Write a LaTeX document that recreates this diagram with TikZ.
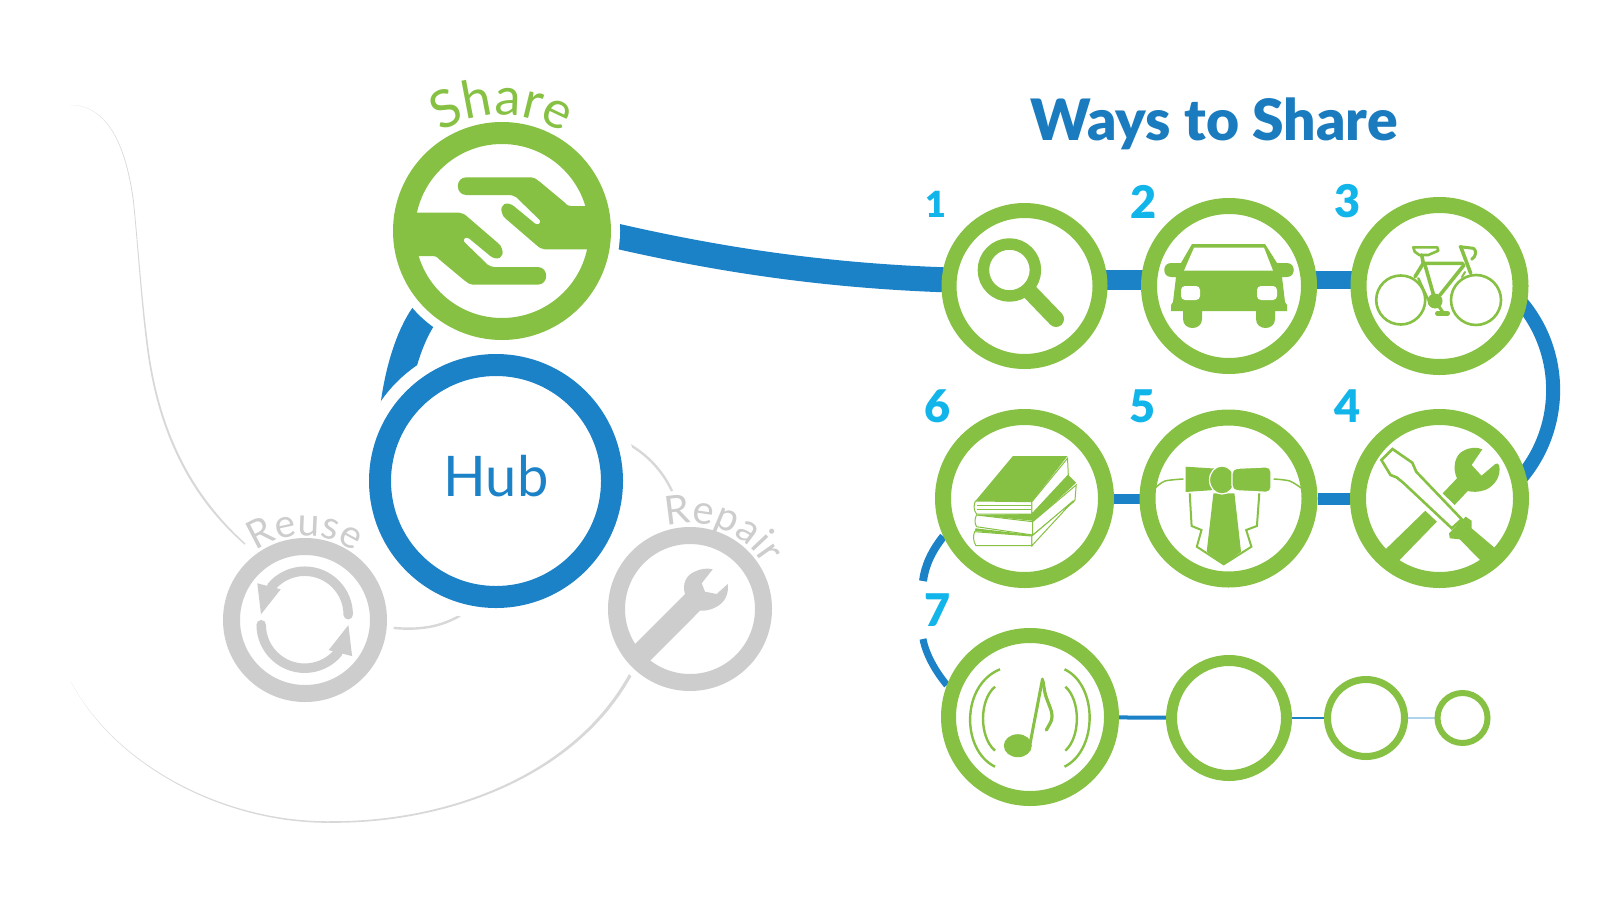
\documentclass[tikz,border=0pt]{standalone}
\usepackage{fontspec}
\usetikzlibrary{backgrounds,calc,decorations.text}
\newfontfamily\heavyfont{Lato Black}
\newfontfamily\hubfont{Lato}
\newfontfamily\arcfont[LetterSpace=6]{Lato}
\definecolor{grn}{HTML}{86C143}
\definecolor{blu}{HTML}{1B82C8}
\definecolor{cyn}{HTML}{12B5EA}
\definecolor{gry}{HTML}{CDCDCD}
\definecolor{lin}{HTML}{D8D8D8}
\tikzset{
  ring/.style={circle,draw=grn,fill=white,inner sep=0pt},
  grayring/.style={circle,draw=gry,fill=white,inner sep=0pt,minimum size=147pt,line width=17pt,preaction={draw=white,line width=31pt}},
  band/.style={draw=blu,line cap=butt},
  thinline/.style={draw=lin,line width=2.4pt},
  numlabel/.style={text=cyn,inner sep=0pt,font=\heavyfont\fontsize{45}{45}\selectfont},
  iconline/.style={draw=grn,line cap=round,line join=round},
}
\newcommand{\handShape}{%
  \fill[grn] (83.7,-25) -- (69.3,-25) .. controls (65,-25) and (63,-28) .. (61.7,-29.3) -- (37.7,-49.3)
    .. controls (34,-52) and (32,-53.7) .. (29.3,-53.7) -- (-35.7,-53.7)
    .. controls (-47,-53.7) and (-47,-36) .. (-35.7,-36) -- (7.7,-36)
    .. controls (10,-36) and (12,-35) .. (14.3,-33.7) -- (37.7,-11)
    .. controls (39.5,-8) and (36,-5) .. (32.7,-7.7) -- (11.7,-25)
    .. controls (5,-30) and (-3,-27) .. (0,-18) .. controls (0.5,-15.5) and (2,-14) .. (3.3,-12.7)
    -- (34.3,14) .. controls (37,16.5) and (40,18.3) .. (42.7,18.3) -- (85.3,18.3) -- (95,18) -- (95,-25) -- cycle;}
\newcommand{\reuseArrow}{%
  \draw[gry,line width=9.5pt,line cap=round] (43.5,-5) arc[start angle=0,end angle=-140,radius=43.5];
  \fill[gry] (-43.7,-5.4) -- (-47.4,-36.4) -- (-24,-30.4) -- cycle;}
\begin{document}
\begin{tikzpicture}[x=1pt,y=-1pt]
\useasboundingbox (0,0) rectangle (1616,918);
\begin{scope}[on background layer]
  \fill[white] (0,0) rectangle (1616,918);
\end{scope}
% main rings
\node[ring,minimum size=196pt,line width=22pt,preaction={draw=white,line width=40pt}] (share) at (502,231) {};
\node[circle,draw=blu,fill=white,inner sep=0pt,minimum size=232pt,line width=22pt,preaction={draw=white,line width=48pt}] (hub) at (496,481) {};
\node[grayring] (reuse) at (305,620) {};
\node[grayring] (repair) at (690,609) {};
\node[ring,minimum size=151pt,line width=15pt] (c1) at (1024.5,286) {};
\node[ring,minimum size=160pt,line width=16pt] (c2) at (1229,286) {};
\node[ring,minimum size=162pt,line width=16pt] (c3) at (1439.5,286) {};
\node[ring,minimum size=163pt,line width=16pt] (c4) at (1439.5,498.5) {};
\node[ring,minimum size=162pt,line width=16pt] (c5) at (1228.5,498.5) {};
\node[ring,minimum size=163pt,line width=16pt] (c6) at (1024.5,498.5) {};
\node[ring,minimum size=163pt,line width=15pt] (c7) at (1030,717) {};
\node[ring,minimum size=115pt,line width=11pt] (c8) at (1229,718) {};
\node[ring,minimum size=77pt,line width=7pt] (c9) at (1366,718) {};
\node[ring,minimum size=50pt,line width=6pt] (c10) at (1462.5,718) {};
% free ends
\coordinate (gapA) at (923,581);
\coordinate (gapB) at (923,639);
\coordinate (repairEnd) at (672,491);
\coordinate (fadeTop) at (70,105);
\coordinate (fadeBot) at (71,681.7);
\coordinate (reuseEndA) at (245.5,543.5);
\coordinate (reuseEndB) at (244.5,544.5);
\coordinate (repairFootA) at (629,674);
\coordinate (repairFootB) at (631.5,676);
\begin{scope}[on background layer]
  \draw[band,line width=25pt] (share.-2) .. controls (720,260) and (850,282) .. ([yshift=5pt]c1.center);
  \draw[band,line width=28pt] (share.-133) .. controls (412,330) and (400,365) .. (hub.143);
  \draw[band,line width=20pt] ([yshift=6pt]c1.center) -- ([yshift=6pt]c2.center);
  \draw[band,line width=18pt] ([yshift=6pt]c2.center) -- ([yshift=6pt]c3.center);
  \draw[band,line width=14pt] ([shift={(75,9)}]c3.center) .. controls (1566,348) and (1566,432) .. ([shift={(75,-13.5)}]c4.center);
  \draw[band,line width=12pt] (c4) -- (c5);
  \draw[band,line width=10pt] (c5) -- (c6);
  \draw[band,line width=8pt] (c6.205) .. controls (931,552) and (925,566) .. (gapA);
  \draw[band,line width=7pt] (gapB) .. controls (926,655) and (936,672) .. (c7.159);
  \draw[band,line width=4pt] (c7) -- (c8);
  \draw[band,line width=2pt] (c8) -- (c9);
  \draw[draw=blu!35,line width=2pt] (c9) -- (c10);
  % grey connectors
  \draw[thinline] (reuse.-5) .. controls (425,632) and (450,625) .. (hub.-100);
  \draw[thinline] (hub.20) .. controls (645,450) and (662,470) .. (repairEnd);
  \fill[lin] (fadeTop) .. controls (105,104.8) and (125.4,140) .. (133.7,200) .. controls (138.4,245) and (141.6,295) .. (147.5,340) .. controls (158,430) and (191,494) .. (reuseEndA) -- (reuseEndB) .. controls (189,496) and (156,430) .. (145.9,340) .. controls (140.4,295) and (137.6,245) .. (132.9,200) .. controls (124.6,140) and (105,105.2) .. (fadeTop) -- cycle;
  \fill[lin] (repairFootA) .. controls (574,774) and (450,821.2) .. (333,821.2) .. controls (225,823.2) and (115,765) .. (fadeBot) .. controls (115,766) and (225,824.5) .. (333,822.8) .. controls (450,823) and (576,776) .. (repairFootB) -- cycle;
\end{scope}
% title, numbers
\node[text=blu!95!black,inner sep=0pt,font=\heavyfont\fontsize{57}{57}\selectfont] (title) at (1214,124) {Ways to Share};
\node[numlabel,font=\heavyfont\fontsize{36}{36}\selectfont] (n1) at (936,204.5) {1};
\node[numlabel] (n2) at (1143.5,201.5) {2};
\node[numlabel] (n3) at (1348,201.5) {3};
\node[numlabel] (n4) at (1348,406) {4};
\node[numlabel] (n5) at (1143,406) {5};
\node[numlabel] (n6) at (937.5,406) {6};
\node[numlabel] (n7) at (937.5,610.5) {7};
\node[text=blu,inner sep=0pt,font=\hubfont\fontsize{56}{56}\selectfont] (hubtext) at (496,476) {Hub};
% arc labels
\path[decorate,decoration={text along path,text align=center,text color=grn,text={|\arcfont\fontsize{52}{52}\selectfont|Share}}]
  ($(share)+(-135:116)$) arc[start angle=-135,end angle=-45,radius=116];
\path[decorate,decoration={text along path,text align=center,text color=gry,text={|\arcfont\fontsize{39}{39}\selectfont|Reuse}}]
  ($(reuse)+(-140:84)$) arc[start angle=-140,end angle=-40,radius=84];
\path[decorate,decoration={text along path,text align=center,text color=gry,text={|\arcfont\fontsize{40}{40}\selectfont|Repair}}]
  ($(repair)+(-120:86)$) arc[start angle=-120,end angle=-16,radius=86];
% share icon
\begin{scope}[shift={(502,231)}]
  \handShape
\end{scope}
\begin{scope}[shift={(502,231)},rotate=180]
  \handShape
\end{scope}
% reuse icon
\begin{scope}[shift={(304.7,619.7)}]
  \reuseArrow
\end{scope}
\begin{scope}[shift={(304.7,619.7)},rotate=180]
  \reuseArrow
\end{scope}
% repair icon
\fill[gry] (630,649) -- (685,594) .. controls (682,584) and (686,575) .. (695,571.5) .. controls (701,568.5) and (707,568) .. (712.7,569.3) -- (701.7,583.3) -- (705,591.7) -- (716.7,594) -- (727.7,584) .. controls (729,594) and (725,602) .. (716.7,606.7) .. controls (711,610) and (705,611) .. (700,610.7) -- (645,666) -- cycle;
% magnifier
\draw[iconline,line width=11.5pt] (1009.4,270) circle[radius=26];
\draw[iconline,line width=16pt] (1029,291) -- (1056,319);
% car
\begin{scope}[shift={(1229,0)}]
  \fill[grn] (-37,244) -- (36,244) -- (48,263) -- (58,263) .. controls (67,263) and (67,277) .. (58,277) -- (53,277) -- (56,302) -- (58,305) -- (58,311) -- (46,311) -- (46,319) .. controls (46,331) and (27,331) .. (27,319) -- (27,311) -- (-27,311) -- (-27,319) .. controls (-27,331) and (-46,331) .. (-46,319) -- (-46,311) -- (-58,311) -- (-58,305) -- (-56,302) -- (-53,277) -- (-58,277) .. controls (-67,277) and (-67,263) .. (-58,263) -- (-48,263) -- cycle;
  \fill[white] (-35,247.7) -- (35,247.7) -- (44,270.7) -- (-45,270.7) -- cycle;
  \fill[white,rounded corners=4pt] (-48,286) rectangle (-29,300);
  \fill[white,rounded corners=4pt] (28,286) rectangle (48,300);
\end{scope}
% bike
\draw[iconline,line width=2.6pt] (1400.7,300) circle[radius=24.5];
\draw[iconline,line width=2.6pt] (1476,300) circle[radius=25];
\draw[iconline,line width=2.6pt] (1413.3,247.3) -- (1437.3,247.3) -- (1438.3,250.7) -- (1428.3,255) -- (1419.3,255) -- (1414.7,251.7) -- cycle;
\draw[iconline,line width=3.6pt] (1421.7,255) -- (1423.3,263.3) -- (1462.7,263.3);
\draw[iconline,line width=3.6pt] (1460.7,246.7) -- (1470.7,273.3);
\draw[iconline,line width=3pt] (1460,246.7) -- (1473.3,248.3) .. controls (1477,250) and (1476,257) .. (1471.7,259.3);
\draw[iconline,line width=3.6pt] (1464,265) -- (1440,295);
\draw[iconline,line width=3.6pt] (1425,265) -- (1435,300);
\draw[iconline,line width=3.6pt] (1423.3,263.3) -- (1415,276.7);
\draw[iconline,line width=2.4pt] (1418.3,278.3) -- (1428.3,300);
\draw[iconline,line width=2pt] (1465,272) -- (1462,277);
\fill[grn] (1435,301) circle[radius=7.5];
\draw[iconline,line width=3pt] (1435,301) -- (1443.3,312.7);
\draw[iconline,line width=5pt] (1437.5,313.3) -- (1447.5,313.3);
% tools
\fill[grn] (1386.6,548.3) -- (1425.3,510.7) -- (1436.8,521.7) -- (1399.6,560) -- (1394,566) -- (1380,552) -- cycle;
\fill[grn] (1442.7,493.3) -- (1457,478.3) .. controls (1452,468) and (1455,455) .. (1463,451) .. controls (1470,447) and (1477,447) .. (1482.3,449.3) -- (1471.6,465) -- (1481.5,475.7) -- (1495.3,464) .. controls (1497,462.5) and (1499,463.5) .. (1499.3,466) .. controls (1501,476) and (1495,486) .. (1485,490) .. controls (1478,492.5) and (1472,492) .. (1467.7,491) -- (1454.6,505) -- cycle;
\draw[draw=grn,fill=white,line width=2.6pt,line join=miter] (1381.4,460) -- (1392.5,449) -- (1412.3,462.7) -- (1416.2,471.7) -- (1461.7,519.3) -- (1451.8,528.3) -- (1403.2,482.7) -- (1396.5,477.3) -- (1390.5,475) -- cycle;
\fill[grn] (1449,533.3) -- (1465.7,516.7) -- (1471.6,520.7) -- (1471.6,528.3) -- (1496,549) -- (1482,562) -- (1459.7,539.3) -- (1449.8,538.3) -- cycle;
% tie
\draw[draw=grn,fill=white,line width=2pt,line join=miter] (1189.7,493.3) -- (1191.6,526) -- (1201.5,530) -- (1196.8,546.7) -- (1223.7,564.3) -- (1251.4,546.7) -- (1246.2,530) -- (1256.9,526) -- (1259.3,493.3);
\fill[grn] (1213.4,493.3) -- (1234.4,493.3) -- (1241,551.7) -- (1223.7,564.3) -- (1206.7,551.7) -- cycle;
\fill[grn] (1185.7,466.7) -- (1214,468.5) -- (1214,490) -- (1185.7,492) -- cycle;
\draw[draw=white,fill=grn,line width=1.2pt] (1222,480) ellipse[x radius=12.5,y radius=14];
\draw[draw=white,fill=grn,line width=1.2pt,rounded corners=5pt] (1271,466.7) -- (1232,468.5) -- (1232,490.5) -- (1271,492.5) -- cycle;
\draw[iconline,line width=1.5pt] plot[smooth] coordinates {(1156,487.3) (1165,481) (1183,479)};
\draw[iconline,line width=1.5pt] plot[smooth] coordinates {(1274,479) (1289.7,481) (1301.6,488.3)};
% books
\fill[grn] (1012.9,456) -- (1067.5,456) -- (1031.9,501.7) -- (975.4,501) -- cycle;
\draw[draw=grn,fill=white,line width=1pt] (975.4,501) -- (1031.9,501.7) -- (1031.9,514) -- (976.5,514) .. controls (973.5,510) and (973.5,505) .. (975.4,501) -- cycle;
\draw[draw=grn,line width=.8pt] (977,505.5) -- (1031,505.5) (977,509) -- (1031,509);
\draw[draw=grn,fill=white,line width=1pt] (1031.9,501.7) -- (1067.5,458.3) -- (1068.3,475) -- (1031.9,514) -- cycle;
\fill[grn] (1031.9,514) -- (1068.3,475) -- (1076.2,482.7) -- (1034.7,521) -- (976.5,515) -- cycle;
\draw[draw=grn,fill=white,line width=1pt] (976.5,515) -- (1032.7,521.7) -- (1032.7,535) -- (976.5,526.7) .. controls (974.5,523) and (974.5,519) .. (976.5,515) -- cycle;
\draw[draw=grn,fill=white,line width=1pt] (1032.7,521.7) -- (1076.2,485) -- (1075,500) -- (1032.7,535) -- cycle;
\fill[grn] (975.4,528.3) -- (1032.7,535) -- (1075,500) -- (1074.2,502) -- (1032,537) -- (975,531) -- cycle;
\draw[draw=grn,fill=white,line width=1pt] (974.6,531.7) -- (1031.9,536) -- (1031.9,545.7) -- (976,545.7) .. controls (973,541) and (973,536) .. (974.6,531.7) -- cycle;
\draw[draw=grn,fill=white,line width=1pt] (1031.9,536) -- (1073.4,500.7) -- (1031.9,545.7) -- cycle;
% music
\fill[grn] (1017.8,745.7) ellipse[x radius=14,y radius=11.5];
\draw[iconline,line width=3pt] (1030,744) -- (1042.5,679);
\draw[iconline,line width=3.2pt] plot[smooth] coordinates {(1043,681) (1045.5,695) (1051.5,711.7) (1051.5,720) (1046.3,730)};
\draw[iconline,line width=2.4pt,line cap=butt] (1000,669.3) .. controls (961,685) and (961,750) .. (995,766.7);
\draw[iconline,line width=2.4pt,line cap=butt] (995,686.7) .. controls (979,700) and (979,737) .. (995,750.7);
\draw[iconline,line width=2.4pt,line cap=butt] (1064.5,669.3) .. controls (1098,685) and (1098,750) .. (1064.5,766.7);
\draw[iconline,line width=2.4pt,line cap=butt] (1065.3,686.7) .. controls (1080.7,700) and (1080.7,737) .. (1065.3,750.7);
\end{tikzpicture}
\end{document}
